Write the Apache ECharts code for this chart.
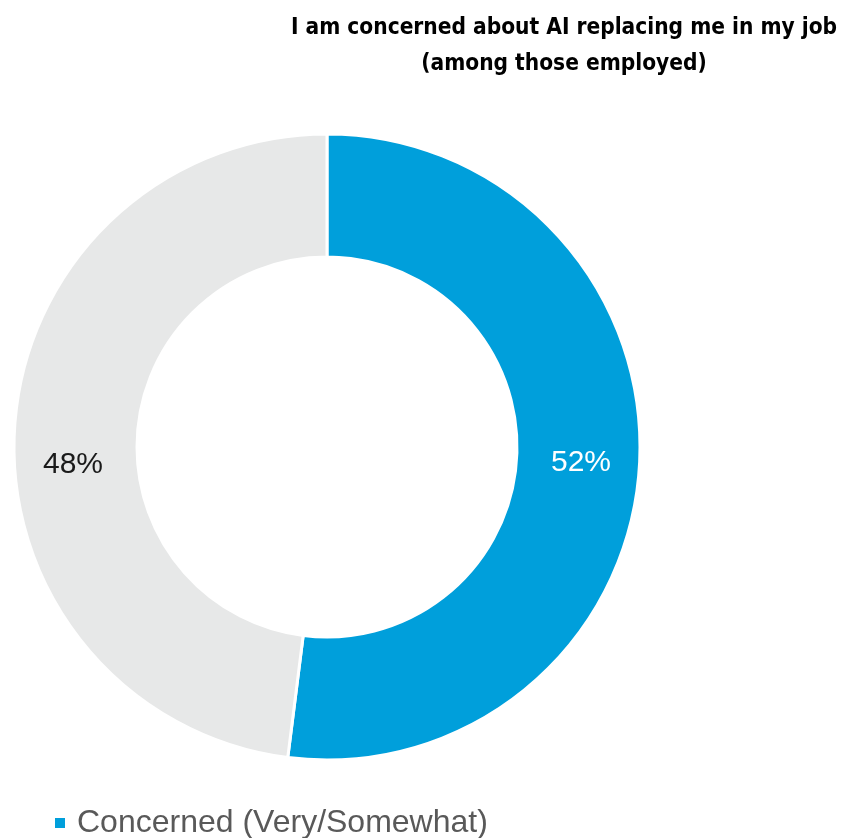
<!DOCTYPE html>
<html>
<head>
<meta charset="utf-8">
<script src="https://cdn.jsdelivr.net/npm/echarts@6/dist/echarts.min.js"></script>
<style>
  html, body { margin: 0; padding: 0; background: #fff; }
  #chart { width: 841px; height: 838px; }
</style>
</head>
<body>
<div id="chart"></div>
<script>
const categories = ['Concerned (Very/Somewhat)', 'Not concerned']
const values = [52, 48]
const legendItems = ['Concerned (Very/Somewhat)']

const colors = ['#009fdb', '#e7e8e8']
const labelColors = ['#ffffff', '#1a1a1a']
// the grey label sits lower in the original, push it down with an empty first line
const labelFormats = ['{c}%', '\n{c}%']
const labelLineHeights = [34, 68]

const chart = echarts.init(document.getElementById('chart'))

chart.setOption({
  backgroundColor: '#ffffff',
  animation: false,
  title: {
    text: 'I am concerned about AI replacing me in my job\n(among those employed)',
    left: 559,
    top: 5,
    textAlign: 'center',
    textStyle: {
      fontFamily: '"DejaVu Sans Condensed", "DejaVu Sans", sans-serif',
      fontWeight: 'bold',
      fontSize: 22.5,
      lineHeight: 36,
      color: '#000000',
    },
  },
  legend: {
    data: legendItems,
    left: 48,
    top: 802,
    icon: 'rect',
    itemWidth: 12,
    itemHeight: 12,
    textStyle: {
      fontFamily: '"Liberation Sans", Arial, sans-serif',
      fontSize: 32,
      color: '#595959',
      padding: [0, 0, 0, 6],
    },
  },
  series: [
    {
      type: 'pie',
      center: [327, 447],
      radius: [190, 313],
      startAngle: 90,
      clockwise: true,
      avoidLabelOverlap: false,
      itemStyle: {
        borderColor: '#ffffff',
        borderWidth: 3,
      },
      label: {
        show: true,
        position: 'inside',
        fontFamily: '"Liberation Sans", Arial, sans-serif',
        fontSize: 30,
      },
      labelLine: { show: false },
      emphasis: { disabled: true },
      data: categories.map((name, i) => ({
        name,
        value: values[i],
        itemStyle: { color: colors[i] },
        label: {
          color: labelColors[i],
          formatter: labelFormats[i],
          lineHeight: labelLineHeights[i],
        },
      })),
    },
  ],
})
</script>
</body>
</html>
